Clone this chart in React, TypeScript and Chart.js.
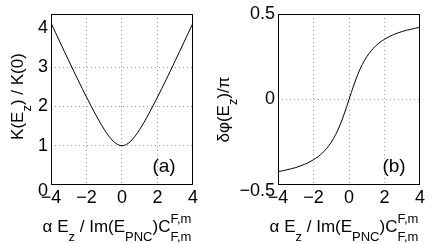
import React, { useEffect, useRef } from 'react';
import { Chart, registerables } from 'chart.js';

Chart.register(...registerables);

// ---- data ----
const xValues = [
  -4, -3.75, -3.5, -3.25, -3, -2.75, -2.5, -2.25, -2, -1.75, -1.5, -1.25, -1, -0.75, -0.5, -0.25,
  0, 0.25, 0.5, 0.75, 1, 1.25, 1.5, 1.75, 2, 2.25, 2.5, 2.75, 3, 3.25, 3.5, 3.75, 4,
];
const kValues = [
  4.123, 3.881, 3.64, 3.4, 3.162, 2.926, 2.693, 2.462, 2.236, 2.016, 1.803, 1.601, 1.414, 1.25, 1.118, 1.031,
  1.0, 1.031, 1.118, 1.25, 1.414, 1.601, 1.803, 2.016, 2.236, 2.462, 2.693, 2.926, 3.162, 3.4, 3.64, 3.881, 4.123,
];
const phiValues = [
  -0.422, -0.417, -0.411, -0.405, -0.398, -0.389, -0.379, -0.367, -0.352, -0.335, -0.313, -0.285, -0.25, -0.205, -0.148, -0.078,
  0, 0.078, 0.148, 0.205, 0.25, 0.285, 0.313, 0.335, 0.352, 0.367, 0.379, 0.389, 0.398, 0.405, 0.411, 0.417, 0.422,
];
const xTicks = [-4, -2, 0, 2, 4];
const kTicks = [0, 1, 2, 3, 4];
const phiTicks = [-0.5, 0, 0.5];

type Piece = { t: string; k: 'n' | 'sub' | 'supsub' };
const xTitle: Piece[] = [
  { t: 'α E', k: 'n' },
  { t: 'z', k: 'sub' },
  { t: ' / Im(E', k: 'n' },
  { t: 'PNC', k: 'sub' },
  { t: ')C', k: 'n' },
  { t: 'F,m', k: 'supsub' },
];
const kTitle: Piece[] = [
  { t: 'K(E', k: 'n' },
  { t: 'z', k: 'sub' },
  { t: ') / K(0)', k: 'n' },
];
const phiTitle: Piece[] = [
  { t: 'δφ(E', k: 'n' },
  { t: 'z', k: 'sub' },
  { t: ')/π', k: 'n' },
];

const FAMILY = '"Liberation Sans", Arial, Helvetica, sans-serif';
const MAIN = 17;
const SMALL = 13;
const TICK = 18;

function drawRich(ctx: CanvasRenderingContext2D, pieces: Piece[], cx: number, base: number, subDy: number, supDy: number) {
  const mainFont = `${MAIN}px ${FAMILY}`;
  const smallFont = `${SMALL}px ${FAMILY}`;
  const widths = pieces.map((p) => {
    ctx.font = p.k === 'n' ? mainFont : smallFont;
    return ctx.measureText(p.t).width;
  });
  const total = widths.reduce((a, b) => a + b, 0);
  let x = cx - total / 2;
  ctx.textAlign = 'left';
  ctx.textBaseline = 'alphabetic';
  pieces.forEach((p, i) => {
    ctx.font = p.k === 'n' ? mainFont : smallFont;
    if (p.k === 'n') ctx.fillText(p.t, x, base);
    else if (p.k === 'sub') ctx.fillText(p.t, x, base + subDy);
    else {
      ctx.fillText(p.t, x, base - supDy);
      ctx.fillText(p.t, x, base + subDy);
    }
    x += widths[i];
  });
}

const decorPlugin = {
  id: 'decor',
  afterDraw(chart: any, _args: any, opts: any) {
    const ctx: CanvasRenderingContext2D = chart.ctx;
    const a = chart.chartArea;
    ctx.save();
    ctx.strokeStyle = '#000';
    ctx.lineWidth = 1;
    ctx.strokeRect(a.left + 0.5, a.top + 0.5, a.right - a.left - 1, a.bottom - a.top - 1);
    ctx.fillStyle = '#000';
    // x title
    drawRich(ctx, xTitle, (a.left + a.right) / 2 + opts.xTitleShift, opts.xTitleBase, 9, 9);
    // y title (rotated)
    ctx.save();
    ctx.translate(opts.yTitleBase, (a.top + a.bottom) / 2 + opts.yTitleShift);
    ctx.rotate(-Math.PI / 2);
    drawRich(ctx, opts.yTitle, 0, 0, 8, 8);
    ctx.restore();
    // panel label
    const px = chart.scales.x.getPixelForValue(opts.labelX);
    const py = chart.scales.y.getPixelForValue(opts.labelY);
    ctx.font = `${MAIN + 2}px ${FAMILY}`;
    ctx.textAlign = 'center';
    ctx.textBaseline = 'middle';
    ctx.fillText(opts.label, px, py);
    ctx.restore();
  },
};

const fmt = (v: number) => (v < 0 ? '\u2212' + String(Math.abs(v)) : String(v));

function makeConfig(p: {
  yValues: number[];
  yTicks: number[];
  yMin: number;
  yMax: number;
  yWidth: number;
  padRight: number;
  yTitle: Piece[];
  yTitleBase: number;
  yTitleShift: number;
  label: string;
  labelX: number;
  labelY: number;
}): any {
  const gridColor = (ticks: number[]) => (c: any) => {
    const v = c.tick ? c.tick.value : null;
    if (v === ticks[0] || v === ticks[ticks.length - 1]) return 'rgba(0,0,0,0)';
    return '#a0a0a0';
  };
  return {
    type: 'line',
    data: {
      datasets: [
        {
          data: xValues.map((x, i) => ({ x, y: p.yValues[i] })),
          borderColor: '#000',
          borderWidth: 1,
          pointRadius: 0,
          cubicInterpolationMode: 'monotone',
          fill: false,
        },
      ],
    },
    options: {
      responsive: false,
      animation: false,
      devicePixelRatio: 1,
      layout: { padding: { left: 0, right: p.padRight, top: 14, bottom: 0 } },
      plugins: {
        legend: { display: false },
        tooltip: { enabled: false },
        decor: {
          xTitleShift: -5,
          xTitleBase: 232,
          yTitle: p.yTitle,
          yTitleBase: p.yTitleBase,
          yTitleShift: p.yTitleShift,
          label: p.label,
          labelX: p.labelX,
          labelY: p.labelY,
        },
      },
      scales: {
        x: {
          type: 'linear',
          min: -4,
          max: 4,
          afterBuildTicks: (s: any) => {
            s.ticks = xTicks.map((v) => ({ value: v }));
          },
          afterFit: (s: any) => {
            s.height = 58;
          },
          ticks: {
            callback: (v: number) => fmt(v),
            color: '#000',
            font: { family: FAMILY, size: TICK },
            padding: 2,
            maxRotation: 0,
            autoSkip: false,
          },
          grid: { color: gridColor(xTicks), lineWidth: 1, drawTicks: false },
          border: { display: false, dash: [1, 3] },
        },
        y: {
          type: 'linear',
          min: p.yMin,
          max: p.yMax,
          afterBuildTicks: (s: any) => {
            s.ticks = p.yTicks.map((v) => ({ value: v }));
          },
          afterFit: (s: any) => {
            s.width = p.yWidth;
          },
          ticks: {
            // the lowest label sits a little below its tick, as in the reference
            callback: (v: number) => (v === p.yTicks[0] ? ['', fmt(v)] : fmt(v)),
            color: '#000',
            font: (c: any) =>
              c.tick && c.tick.value === p.yTicks[0]
                ? { family: FAMILY, size: TICK, lineHeight: 0.7 }
                : { family: FAMILY, size: TICK },
            padding: 3,
            autoSkip: false,
          },
          grid: { color: gridColor(p.yTicks), lineWidth: 1, drawTicks: false },
          border: { display: false, dash: [1, 3] },
        },
      },
    },
    plugins: [decorPlugin],
  };
}

function Panel({ left, width, config }: { left: number; width: number; config: any }) {
  const ref = useRef<HTMLCanvasElement>(null);
  useEffect(() => {
    const chart = new Chart(ref.current as HTMLCanvasElement, config);
    return () => chart.destroy();
  }, []);
  return (
    <canvas
      ref={ref}
      width={width}
      height={243}
      style={{ position: 'absolute', left, top: 0, width, height: 243, display: 'block' }}
    />
  );
}

export default function App() {
  const cfgA = makeConfig({
    yValues: kValues,
    yTicks: kTicks,
    yMin: 0,
    yMax: 4.35,
    yWidth: 51,
    padRight: 7,
    yTitle: kTitle,
    yTitleBase: 22.7,
    yTitleShift: -3,
    label: '(a)',
    labelX: 2.37,
    labelY: 0.47,
  });
  const cfgB = makeConfig({
    yValues: phiValues,
    yTicks: phiTicks,
    yMin: -0.5,
    yMax: 0.5,
    yWidth: 78,
    padRight: 16,
    yTitle: phiTitle,
    yTitleBase: 29,
    yTitleShift: 10,
    label: '(b)',
    labelX: 2.54,
    labelY: -0.395,
  });
  return (
    <div style={{ position: 'fixed', left: 0, top: 0, width: 436, height: 243, background: '#fff', overflow: 'hidden' }}>
      <Panel left={0} width={200} config={cfgA} />
      <Panel left={200} width={236} config={cfgB} />
    </div>
  );
}
